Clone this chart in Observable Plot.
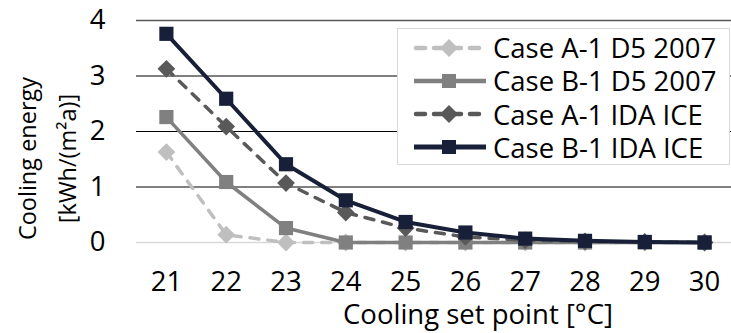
<!DOCTYPE html>
<html>
<head>
<meta charset="utf-8">
<script src="https://cdn.jsdelivr.net/npm/d3@7"></script>
<script src="https://cdn.jsdelivr.net/npm/@observablehq/plot@0.6"></script>
<style>
  body { margin: 0; background: #fff; }
  #wrap { position: relative; width: 731px; height: 333px; font-family: "Open Sans", sans-serif; }
  #legend { position: absolute; left: 397px; top: 28px; width: 333px; height: 137px;
    background: #fff; border: 1.5px solid #d9d9d9; box-sizing: border-box; }
  .row { position: absolute; left: 0; height: 32px; display: flex; align-items: center; }
  .row span { font-size: 27.5px; line-height: 31px; color: #000; margin-left: 6px; white-space: nowrap; }
</style>
</head>
<body>
<div id="wrap"><div id="chart"></div><div id="legend"></div></div>
<script>
const setPoints = [21, 22, 23, 24, 25, 26, 27, 28, 29, 30];
const caseA1D5  = [1.63, 0.14, 0.0, 0.0, 0.0, 0.0, 0.0, 0.0, 0.0, 0.0];
const caseB1D5  = [2.26, 1.09, 0.26, 0.0, 0.0, 0.0, 0.0, 0.0, 0.0, 0.0];
const caseA1IDA = [3.13, 2.09, 1.07, 0.54, 0.26, 0.1, 0.04, 0.02, 0.01, 0.0];
const caseB1IDA = [3.76, 2.59, 1.41, 0.76, 0.37, 0.18, 0.07, 0.03, 0.01, 0.0];
const yTicks = [0, 1, 2, 3, 4];
const seriesNames = ["Case A-1 D5 2007", "Case B-1 D5 2007", "Case A-1 IDA ICE", "Case B-1 IDA ICE"];
const xTitle = "Cooling set point [°C]";
const yTitle1 = "Cooling energy";
const yTitle2 = "[kWh/(m²a)]";

const styles = [
  {values: caseA1D5,  color: "#bfbfbf", width: 3.5, dash: "9,9",  symbol: "diamond2"},
  {values: caseB1D5,  color: "#808080", width: 3.5, dash: null,   symbol: "square"},
  {values: caseA1IDA, color: "#595959", width: 3.5, dash: "9,9",  symbol: "diamond2"},
  {values: caseB1IDA, color: "#172038", width: 4,   dash: null,   symbol: "square"}
];

const marks = [
  Plot.ruleY([1, 2, 3], {stroke: "#000", strokeWidth: 1}),
  Plot.ruleY([4], {stroke: "#595959", strokeWidth: 1.5}),
  Plot.ruleY([0], {stroke: "#d9d9d9", strokeWidth: 1.5})
];
styles.forEach((s, i) => {
  const data = setPoints.map((x, j) => ({x, y: s.values[j]}));
  marks.push(Plot.line(data, {x: "x", y: "y", stroke: s.color, strokeWidth: s.width,
    strokeDasharray: s.dash || undefined, strokeLinecap: s.dash ? "round" : "butt", strokeLinejoin: "round"}));
  marks.push(Plot.dot(data, {x: "x", y: "y", symbol: s.symbol, r: 8, fill: s.color, stroke: "none"}));
});
marks.push(
  Plot.axisX(setPoints, {tickSize: 0, tickPadding: 29, fontSize: 27.5, label: null, tickFormat: d => String(d), color: "#000"}),
  Plot.axisY(yTicks, {tickSize: 0, tickPadding: 31, fontSize: 27.5, label: null, tickFormat: d => String(d), color: "#000"}),
  Plot.text([xTitle], {text: d => d, frameAnchor: "bottom", dx: 44, dy: 73, fontSize: 27.5, fill: "#000", lineAnchor: "middle", textAnchor: "middle"}),
  Plot.text([yTitle1], {text: d => d, frameAnchor: "left", rotate: -90, dx: -108, dy: 27, fontSize: 23.5, fill: "#000", lineAnchor: "middle", textAnchor: "middle"}),
  Plot.text([yTitle2], {text: d => d, frameAnchor: "left", rotate: -90, dx: -68, dy: 27, fontSize: 23.5, fill: "#000", lineAnchor: "middle", textAnchor: "middle"})
);

const chart = Plot.plot({
  width: 731, height: 333,
  marginLeft: 136, marginRight: 0, marginTop: 20, marginBottom: 91,
  x: {type: "linear", domain: [20.5, 30.45]},
  y: {domain: [0, 4]},
  style: {fontFamily: "Open Sans", background: "#fff", overflow: "visible"},
  marks
});
document.getElementById("chart").appendChild(chart);

// legend
const legend = document.getElementById("legend");
styles.forEach((s, i) => {
  const row = document.createElement("div");
  row.className = "row";
  row.style.top = (2.5 + i * 33.3) + "px";
  row.style.left = "15px";
  const dash = s.dash ? `stroke-dasharray="${s.dash}" stroke-linecap="round"` : "";
  const shape = s.symbol === "square"
    ? `<rect x="29" y="9" width="14" height="14" fill="${s.color}"/>`
    : `<path d="M36,7 L45,16 L36,25 L27,16 Z" fill="${s.color}"/>`;
  row.innerHTML = `<svg width="74" height="32"><line x1="${s.dash ? 3 : 1}" y1="16" x2="${s.dash ? 70 : 73}" y2="16" stroke="${s.color}" stroke-width="${s.width + 1}" ${dash}/>${shape}</svg><span>${seriesNames[i]}</span>`;
  legend.appendChild(row);
});
</script>
</body>
</html>
